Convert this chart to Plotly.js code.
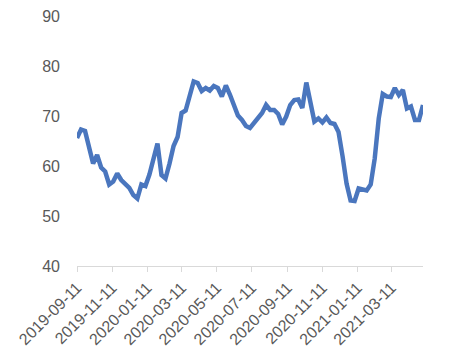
<!DOCTYPE html>
<html>
<head>
<meta charset="utf-8">
<script src="https://cdn.plot.ly/plotly-3.0.1.min.js"></script>
<style>
  html, body { margin: 0; padding: 0; background: #ffffff; }
  #chart { width: 455px; height: 362px; }
</style>
</head>
<body>
<div id="chart"></div>
<script>
// Weekly series, first week starting 2019-09-11
const startDate = '2019-09-11';
const values = [
  65.6, 67.3, 67.0, 63.6, 60.5, 62.2, 59.7, 58.9, 56.3, 56.9,
  58.5, 57.2, 56.4, 55.6, 54.2, 53.5, 56.3, 56.0, 58.3, 61.4,
  64.5, 58.2, 57.5, 60.5, 64.0, 65.8, 70.6, 71.1, 74.0, 76.9,
  76.6, 75.0, 75.6, 75.1, 76.0, 75.6, 73.9, 76.1, 74.3, 72.1,
  70.1, 69.2, 68.0, 67.6, 68.6, 69.8, 70.6, 72.2, 71.2, 71.2,
  70.4, 68.3, 69.9, 72.2, 73.2, 73.3, 71.6, 76.7, 72.5, 68.9,
  69.5, 68.7, 69.7, 68.6, 68.4, 66.8, 62.0, 56.5, 53.1, 53.0,
  55.5, 55.4, 55.1, 56.3, 61.5, 69.5, 74.4, 73.9, 73.8, 75.6,
  74.2, 75.2, 71.5, 71.9, 69.2, 69.2, 72.2
];
const tickDates = ['2019-09-11','2019-11-11','2020-01-11','2020-03-11','2020-05-11',
                   '2020-07-11','2020-09-11','2020-11-11','2021-01-11','2021-03-11'];
const tickLabels = ['2019-09-11','2019-11-11','2020-01-11','2020-03-11','2020-05-11',
                    '2020-07-11','2020-09-11','2020-11-11','2021-01-11','2021-03-11'];
const yTicks = [40, 50, 60, 70, 80, 90];

function fmt(d) {
  const y = d.getUTCFullYear();
  const m = String(d.getUTCMonth() + 1).padStart(2, '0');
  const dd = String(d.getUTCDate()).padStart(2, '0');
  return y + '-' + m + '-' + dd;
}
const dates = values.map((v, i) => {
  const d = new Date(startDate + 'T00:00:00Z');
  d.setUTCDate(d.getUTCDate() + 7 * i);
  return fmt(d);
});

const trace = {
  x: dates,
  y: values,
  type: 'scatter',
  mode: 'lines',
  line: { color: '#4a76be', width: 4.5 },
  hoverinfo: 'skip'
};

const font = { family: 'Liberation Sans, Arial, sans-serif', size: 16, color: '#595959' };

const layout = {
  width: 455,
  height: 362,
  margin: { l: 77, r: 32, t: 16, b: 96, pad: 0 },
  paper_bgcolor: '#ffffff',
  plot_bgcolor: '#ffffff',
  showlegend: false,
  font: font,
  xaxis: {
    type: 'date',
    range: [dates[0], dates[dates.length - 1]],
    tickmode: 'array',
    tickvals: tickDates,
    ticktext: tickLabels,
    tickangle: -45,
    tickfont: font,
    showgrid: false,
    zeroline: false,
    showline: true,
    linecolor: '#d9d9d9',
    linewidth: 1,
    ticks: 'outside',
    ticklen: 5,
    tickcolor: '#d9d9d9',
    tickwidth: 1,
    automargin: false,
    fixedrange: true
  },
  yaxis: {
    range: [40, 90],
    tickmode: 'array',
    tickvals: yTicks,
    ticktext: yTicks.map(String),
    tickfont: font,
    showgrid: false,
    zeroline: false,
    showline: false,
    ticks: '',
    ticklabelstandoff: 16,
    automargin: false,
    fixedrange: true
  }
};

Plotly.newPlot('chart', [trace], layout, { staticPlot: true, displayModeBar: false });
</script>
</body>
</html>
